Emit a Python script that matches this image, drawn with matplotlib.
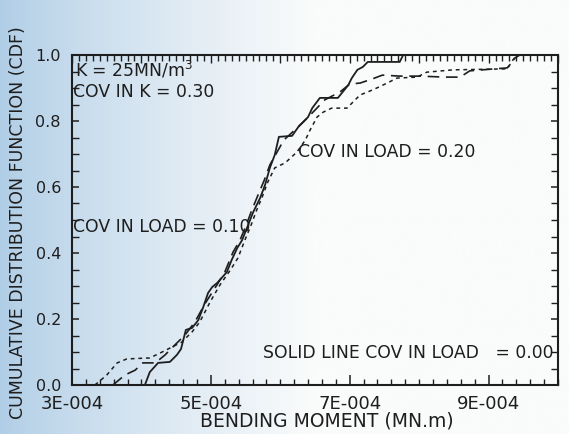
import numpy as np
import matplotlib.pyplot as plt
from matplotlib.ticker import MultipleLocator

# === DATA ===
# solid line: COV in load = 0.00
moment_00 = [4.05e-4, 4.12e-4, 4.24e-4, 4.41e-4, 4.51e-4, 4.57e-4, 4.64e-4, 4.73e-4,
             4.82e-4, 4.89e-4, 4.96e-4, 5.02e-4, 5.09e-4, 5.23e-4, 5.30e-4, 5.38e-4,
             5.45e-4, 5.52e-4, 5.61e-4, 5.71e-4, 5.78e-4, 5.85e-4, 5.92e-4, 5.98e-4,
             6.17e-4, 6.26e-4, 6.40e-4, 6.46e-4, 6.57e-4, 6.83e-4, 6.98e-4, 7.03e-4,
             7.11e-4, 7.19e-4, 7.26e-4, 7.72e-4, 7.77e-4]
cdf_00 = [0.0, 0.039, 0.067, 0.070, 0.091, 0.109, 0.167, 0.173,
          0.197, 0.236, 0.279, 0.297, 0.309, 0.342, 0.379, 0.415,
          0.439, 0.476, 0.524, 0.567, 0.606, 0.658, 0.697, 0.752,
          0.755, 0.782, 0.812, 0.839, 0.870, 0.870, 0.909, 0.930,
          0.955, 0.964, 0.979, 0.979, 1.0]

# long dashes: COV in load = 0.10
moment_10 = [3.59e-4, 3.76e-4, 3.91e-4, 4.02e-4, 4.20e-4, 4.34e-4, 4.48e-4, 4.63e-4,
             4.77e-4, 4.92e-4, 5.06e-4, 5.20e-4, 5.32e-4, 5.42e-4, 5.51e-4, 5.59e-4,
             5.68e-4, 5.77e-4, 5.85e-4, 5.97e-4, 6.05e-4, 6.21e-4, 6.36e-4, 6.50e-4,
             6.64e-4, 6.86e-4, 7.00e-4, 7.15e-4, 7.32e-4, 7.47e-4, 7.72e-4, 8.01e-4,
             8.37e-4, 8.59e-4, 8.73e-4, 9.27e-4, 9.38e-4, 9.45e-4]
cdf_10 = [0.0, 0.030, 0.045, 0.067, 0.067, 0.091, 0.121, 0.152,
          0.191, 0.248, 0.294, 0.342, 0.403, 0.439, 0.485, 0.530,
          0.576, 0.621, 0.667, 0.712, 0.742, 0.773, 0.803, 0.833,
          0.864, 0.888, 0.912, 0.915, 0.927, 0.939, 0.936, 0.936,
          0.933, 0.933, 0.952, 0.961, 0.991, 1.0]

# short dashes: COV in load = 0.20
moment_20 = [3.33e-4, 3.50e-4, 3.65e-4, 3.79e-4, 4.12e-4, 4.27e-4, 4.44e-4, 4.58e-4,
             4.73e-4, 4.84e-4, 4.99e-4, 5.13e-4, 5.28e-4, 5.39e-4, 5.49e-4, 5.58e-4,
             5.66e-4, 5.74e-4, 5.82e-4, 5.92e-4, 6.07e-4, 6.24e-4, 6.36e-4, 6.43e-4,
             6.53e-4, 6.62e-4, 6.74e-4, 6.96e-4, 7.05e-4, 7.15e-4, 7.26e-4, 7.39e-4,
             7.54e-4, 7.68e-4, 7.97e-4, 8.11e-4, 8.49e-4, 9.27e-4, 9.35e-4, 9.41e-4]
cdf_20 = [0.0, 0.030, 0.067, 0.079, 0.082, 0.097, 0.115, 0.130,
          0.161, 0.191, 0.252, 0.303, 0.348, 0.385, 0.439, 0.485,
          0.530, 0.570, 0.615, 0.658, 0.673, 0.706, 0.742, 0.773,
          0.812, 0.827, 0.839, 0.839, 0.858, 0.879, 0.888, 0.900,
          0.915, 0.930, 0.933, 0.948, 0.955, 0.958, 0.985, 1.0]

x_ticks = [3e-4, 5e-4, 7e-4, 9e-4]
x_tick_labels = ["3E-004", "5E-004", "7E-004", "9E-004"]
y_ticks = [0.0, 0.2, 0.4, 0.6, 0.8, 1.0]
y_tick_labels = ["0.0", "0.2", "0.4", "0.6", "0.8", "1.0"]

ink = "#1e1e1e"
plt.rcParams['font.family'] = ['DejaVu Sans']

fig = plt.figure(figsize=(5.69, 4.34), dpi=100)

# === SCAN TINT (bluish left side fading to white) ===
bg = fig.add_axes([0, 0, 1, 1], zorder=-10)
g = np.linspace(0, 1, 400)
fade = np.clip(g / 0.55, 0, 1) ** 0.8
left_c = np.array([175, 205, 230]) / 255
right_c = np.array([250, 251, 251]) / 255
row = left_c[None, :] * (1 - fade[:, None]) + right_c[None, :] * fade[:, None]
bg.imshow(row[None, :, :], aspect='auto', extent=[0, 1, 0, 1])
bg.axis('off')

# === MAIN AXES ===
ax = fig.add_axes([72 / 569, 49 / 434, 486 / 569, 330 / 434])
ax.set_facecolor('none')

ax.plot(moment_00, cdf_00, color=ink, lw=1.3)
l10, = ax.plot(moment_10, cdf_10, color=ink, lw=1.2)
l10.set_dashes([7, 4])
l20, = ax.plot(moment_20, cdf_20, color=ink, lw=1.1)
l20.set_dashes([2.5, 2.5])

ax.set_xlim(3e-4, 1e-3)
ax.set_ylim(0, 1)

ax.set_xticks(x_ticks)
ax.set_xticklabels(x_tick_labels, fontsize=13, color=ink)
ax.xaxis.set_minor_locator(MultipleLocator(2e-5))
ax.set_yticks(y_ticks)
ax.set_yticklabels(y_tick_labels, fontsize=11.5, color=ink)
ax.yaxis.set_minor_locator(MultipleLocator(0.05))

ax.tick_params(axis='x', which='major', direction='in', length=7, width=1.1,
               pad=7, colors=ink, bottom=True, top=False)
ax.tick_params(axis='x', which='minor', direction='in', length=4, width=1.0,
               bottom=True, top=False, colors=ink)
ax.tick_params(axis='y', which='major', direction='in', length=5, width=1.1,
               pad=8, colors=ink, left=True, right=True)
ax.tick_params(axis='y', which='minor', direction='in', length=5, width=1.0,
               left=True, right=True, colors=ink)

# denser ticks along the top edge
top = ax.secondary_xaxis('top')
top.xaxis.set_major_locator(MultipleLocator(1e-4))
top.xaxis.set_minor_locator(MultipleLocator(1e-5))
top.tick_params(which='both', direction='in', labeltop=False, colors=ink, width=1.0)
top.tick_params(which='major', length=6)
top.tick_params(which='minor', length=4)
top.spines['top'].set_visible(False)

for s in ax.spines.values():
    s.set_linewidth(1.5)
    s.set_color(ink)

# === LABELS / NOTES ===
fig.text(327 / 569, 13 / 434, "BENDING MOMENT (MN.m)", fontsize=13.5,
         ha='center', va='center', color=ink)
fig.text(18 / 569, 0.488, "CUMULATIVE DISTRIBUTION FUNCTION (CDF)", fontsize=12.5,
         rotation=90, ha='center', va='center', color=ink)

note = dict(transform=ax.transAxes, fontsize=12.4, color=ink, va='center')
ax.text(0.006, 0.955, "K = 25MN/m$^3$", **note)
ax.text(0.002, 0.889, "COV IN K = 0.30", **note)
ax.text(0.465, 0.706, "COV IN LOAD = 0.20", **note)
ax.text(0.002, 0.479, "COV IN LOAD = 0.10", **note)
ax.text(0.393, 0.097, "SOLID LINE COV IN LOAD   = 0.00", **note)

fig.savefig("out.png", dpi=100)
